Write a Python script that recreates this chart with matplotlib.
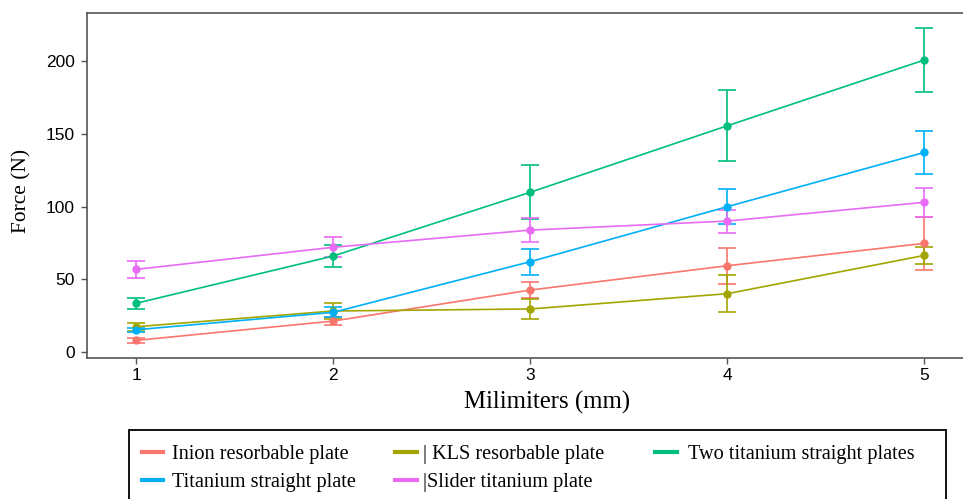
import matplotlib
matplotlib.use("Agg")
import matplotlib.pyplot as plt
from matplotlib.lines import Line2D
from matplotlib.patches import Rectangle

x_mm = [1, 2, 3, 4, 5]
series_names = ["Inion resorbable plate", "KLS resorbable plate", "Two titanium straight plates",
                "Titanium straight plate", "Slider titanium plate"]
legend_labels = ["Inion resorbable plate", "| KLS resorbable plate", "Two titanium straight plates",
                 "Titanium straight plate", "|Slider titanium plate"]
colors = ["#F8766D", "#A3A500", "#00BF7D", "#00B0F6", "#E76BF3"]

inion_mean = [8.0, 21.3, 42.6, 59.3, 74.7]
inion_err = [1.7, 2.5, 5.4, 12.3, 18.0]
kls_mean = [17.4, 28.2, 29.6, 40.1, 66.4]
kls_err = [2.7, 5.7, 7.0, 12.7, 5.9]
two_mean = [33.5, 66.0, 109.8, 155.5, 200.7]
two_err = [3.7, 7.6, 18.7, 24.3, 21.9]
ti_mean = [15.3, 27.3, 62.1, 99.9, 137.2]
ti_err = [1.5, 3.5, 9.0, 11.9, 14.8]
slider_mean = [56.8, 72.0, 83.8, 90.0, 102.9]
slider_err = [5.6, 6.9, 8.1, 7.9, 10.0]

means = [inion_mean, kls_mean, two_mean, ti_mean, slider_mean]
errs = [inion_err, kls_err, two_err, ti_err, slider_err]

W, H = 963, 499
fig = plt.figure(figsize=(W / 100, H / 100), dpi=100)
ax_l, ax_b, ax_t = 86.7, 358.3, 12.7
ax = fig.add_axes([ax_l / W, 1 - ax_b / H, 1 - ax_l / W, (ax_b - ax_t) / H])

for m, e, c in zip(means, errs, colors):
    ax.errorbar(x_mm, m, yerr=e, color=c, lw=1.2, elinewidth=1.2, capsize=6.5, capthick=1.2,
                marker="o", markersize=5, zorder=3)

ax.set_xlim(0.749, 5.196)
ax.set_ylim(-4.3, 233.2)
ax.set_xticks(x_mm)
ax.set_yticks([0, 50, 100, 150, 200])
for sp in ["left", "bottom", "top"]:
    ax.spines[sp].set_color("#555555")
    ax.spines[sp].set_linewidth(1.2)
ax.spines["right"].set_visible(False)
ax.tick_params(axis="both", direction="out", length=4, width=1, color="#555555",
               labelsize=12.5, labelcolor="black")
ax.tick_params(axis="x", pad=3)
ax.tick_params(axis="y", pad=4.5)
for lab in ax.get_xticklabels() + ax.get_yticklabels():
    lab.set_family("Liberation Sans")

ax.set_xlabel("Milimiters (mm)", family="Liberation Serif", fontsize=17.8, va="center")
ax.xaxis.set_label_coords((547 - ax_l) / (W - ax_l), (ax_b - 402) / (ax_b - ax_t))
ax.set_ylabel("Force (N)", family="Liberation Serif", fontsize=15.4, va="center")
ax.yaxis.set_label_coords((22 - ax_l) / (W - ax_l), (ax_b - 191) / (ax_b - ax_t))

# legend box
fig.patches.append(Rectangle((129.3 / W, -0.05), (946 - 129.3) / W, (1 - 429.7 / H) + 0.05,
                             transform=fig.transFigure, fill=False, edgecolor="black",
                             linewidth=1.3))
key_x = [(141.7, 163.3), (395, 416.7), (655, 676.7)]
text_x = [172, 423, 688]
row_y = [452.3, 480.3]
positions = [(0, 0), (1, 0), (2, 0), (0, 1), (1, 1)]
for i, (col, row) in enumerate(positions):
    y = 1 - row_y[row] / H
    fig.add_artist(Line2D([key_x[col][0] / W, key_x[col][1] / W], [y, y],
                          transform=fig.transFigure, color=colors[i], lw=3))
    fig.text(text_x[col] / W, 1 - (row_y[row] + 6.5) / H, legend_labels[i],
             family="Liberation Serif", fontsize=14.6, va="baseline", ha="left")

fig.savefig("out.png", dpi=100)
